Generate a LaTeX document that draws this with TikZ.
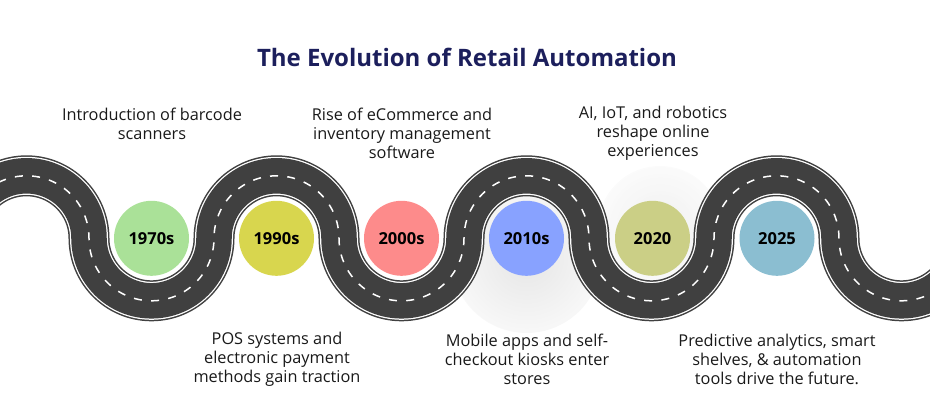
\documentclass[tikz,border=0pt]{standalone}
\usepackage{fontspec}
\setmainfont{Open Sans}
\usetikzlibrary{positioning}
\definecolor{asphalt}{HTML}{404040}
\definecolor{navytitle}{HTML}{1C1F5C}
\pgfdeclareradialshading{softglow}{\pgfpointorigin}{color(0bp)=(black!10); color(35bp)=(white); color(75bp)=(white)}
\tikzstyle{year}=[circle,inner sep=0pt,minimum size=75pt,font=\fontsize{16.5}{18}\selectfont\bfseries]
\tikzstyle{note}=[align=center,font=\fontsize{16.3}{19}\selectfont,text=black!90]
\tikzstyle{roadline}=[line join=round]
\tikzstyle{lanemark}=[dash pattern=on 8pt off 9.3pt]

\begin{document}
\begin{tikzpicture}[x=1pt,y=-1pt, node distance=125pt, on grid]
  \useasboundingbox (0,0) rectangle (930,418);

  % soft shadows
  \shade[shading=softglow] (526.5,258) circle (75);
  \shade[shading=softglow, opacity=.6] (660,228) circle (62);

  % road
  \foreach \wd/\col/\dsh in {41/asphalt/solid, 38/white/solid, 35.5/asphalt/solid, 1.5/white/lanemark}
    \draw[roadline, \col, line width=\wd pt, \dsh]
      (-36,238.3) arc (180:360:62.5) arc (180:0:62.5) arc (180:360:62.5)
      arc (180:0:62.5) arc (180:360:62.5) arc (180:0:62.5)
      arc (180:360:62.5) arc (180:0:62.5);

  % year circles
  \node[year, fill={rgb,255:red,170;green,225;blue,152}] (y1970) at (151.5,238.3) {1970s};
  \node[year, fill={rgb,255:red,216;green,214;blue,78}, right=of y1970] (y1990) {1990s};
  \node[year, fill={rgb,255:red,253;green,139;blue,139}, right=of y1990] (y2000) {2000s};
  \node[year, fill={rgb,255:red,136;green,162;blue,255}, right=of y2000] (y2010) {2010s};
  \node[year, fill={rgb,255:red,203;green,207;blue,134}, right=of y2010, xshift=1pt] (y2020) {2020};
  \node[year, fill={rgb,255:red,139;green,190;blue,209}, right=of y2020, xshift=-.5pt] (y2025) {2025};

  % title
  \node[text=navytitle, font=\fontsize{24}{28}\selectfont\bfseries] (title) at (467,57) {The Evolution of Retail Automation};

  % notes above
  \node[note] (n1970) at (152,123.5) {Introduction of barcode\\scanners};
  \node[note] (n2000) at (402,133) {Rise of eCommerce and\\inventory management\\software};
  \node[note] (n2020) at (653,133) {AI, IoT, and robotics\\reshape online\\experiences};

  % notes below
  \node[note] (n1990) at (277,359) {POS systems and\\electronic payment\\methods gain traction};
  \node[note] (n2010) at (527,359) {Mobile apps and self-\\checkout kiosks enter\\stores};
  \node[note] (n2025) at (777,359) {Predictive analytics, smart\\shelves, \& automation\\tools drive the future.};
\end{tikzpicture}
\end{document}
